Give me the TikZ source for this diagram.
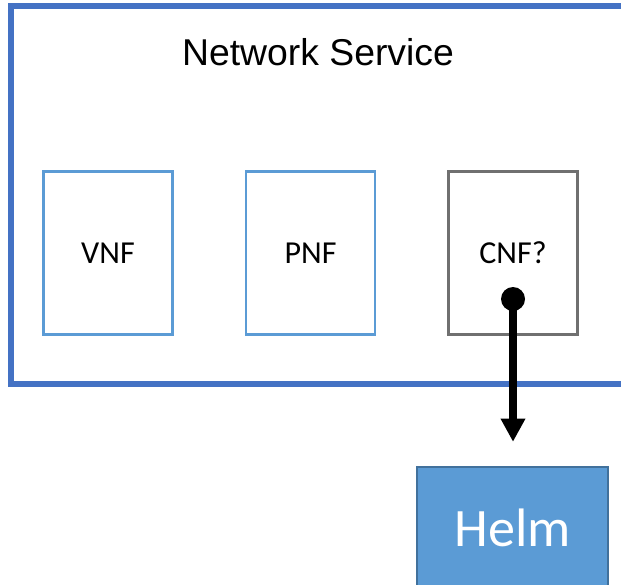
\documentclass[tikz,border=0pt]{standalone}
\usepackage{fontspec}
\setmainfont{Liberation Sans}
\newfontfamily\calibri{Carlito}
\usepackage{tikz}
\usetikzlibrary{arrows.meta, positioning}
\usepackage{xcolor}
\definecolor{serviceBlue}{RGB}{68, 114, 196}
\definecolor{nfBlue}{RGB}{91, 155, 213}
\definecolor{cnfGray}{RGB}{112, 112, 112}
\definecolor{helmEdge}{RGB}{65, 113, 156}

\begin{document}
\begin{tikzpicture}[
    x=0.75pt, y=-0.75pt,
    nfbox/.style={rectangle, draw=#1, line width=1.9pt, minimum width=97pt, minimum height=122.5pt, font=\calibri\fontsize{24}{28}\selectfont, inner sep=0pt},
    helmbox/.style={rectangle, draw=helmEdge, fill=nfBlue, line width=1.5pt, minimum width=143.5pt, minimum height=91pt, text=white, font=\calibri\fontsize{40.6}{48}\selectfont, inner sep=0pt},
    pinarrow/.style={-{Triangle[width=17.5pt, length=17.5pt]}, line width=6pt, black},
    pin/.style={circle, fill=black, minimum size=18pt, inner sep=0pt},
]
\clip (0,0) rectangle (621,585);
% SERVICE FRAME
\node[rectangle, draw=serviceBlue, line width=4.5pt, minimum width=471.75pt, minimum height=283.75pt, inner sep=0pt] (service) at (325.5, 194.75) {};
\node[anchor=base, font=\fontsize{28}{33}\selectfont] (servicetitle) at (318, 66) {Network Service};
% FUNCTIONS
\node[nfbox=nfBlue] (vnf) at (108, 253) {VNF};
\node[nfbox=nfBlue] (pnf) at (310.5, 253) {PNF};
\node[nfbox=cnfGray] (cnf) at (513, 253) {CNF?};
% HELM
\node[helmbox] (helm) at (512.5, 527.5) {Helm};
\node[pin] (cnfpin) at (513, 299) {};
\draw[pinarrow, shorten >=18pt] (cnfpin.center) -- (cnfpin.center |- helm.north);
\end{tikzpicture}
\end{document}
